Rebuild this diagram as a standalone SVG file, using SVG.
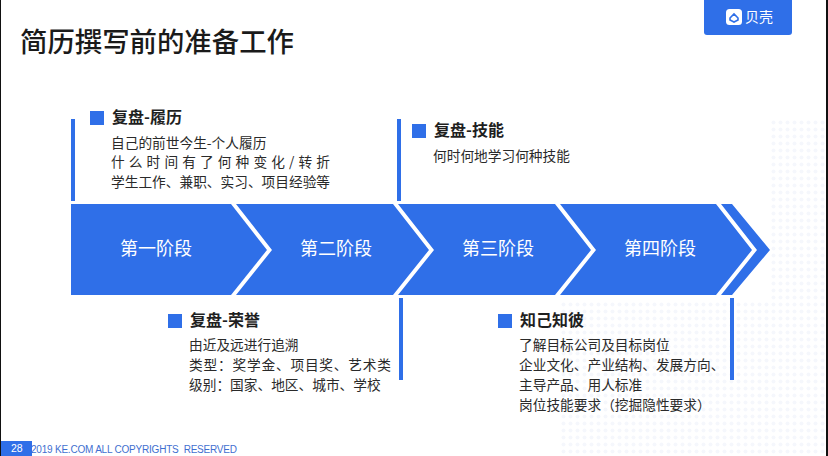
<svg xmlns="http://www.w3.org/2000/svg" width="828" height="456" viewBox="0 0 828 456">
<defs>
<style>
text{font-family:"Noto Sans CJK SC","Liberation Sans",sans-serif}
.h{font-size:16px;font-weight:700;fill:#1f1f1f}
.b{font-size:13.700px;fill:#2a2a2a}
.s{font-size:18px;fill:#fff;text-anchor:middle}
.c{fill:#2f6fe8}
</style>
<pattern id="dots" width="7" height="7" patternUnits="userSpaceOnUse"><circle cx="3.500" cy="3.500" r="2" fill="#f5f7fc"/></pattern>
</defs>
<rect width="828" height="456" fill="#fff"/>
<rect x="560" y="300" width="266" height="156" fill="url(#dots)"/>
<rect x="770" y="120" width="56" height="180" fill="url(#dots)"/>
<rect x="0" y="0" width="1" height="456" fill="#111"/>
<rect x="826" y="0" width="2" height="456" fill="#111"/>
<text x="20" y="52" font-size="27.400" font-weight="500" fill="#1a1a1a">简历撰写前的准备工作</text>
<g id="logo">
<path class="c" d="M704 0H792V32a3 3 0 0 1-3 3H707a3 3 0 0 1-3-3Z"/>
<rect x="726" y="9" width="16" height="16" rx="3.500" fill="#fff"/>
<path d="M730 18L734 14L738 18V20L734 22L730 20Z" fill="none" stroke="#2f6fe8" stroke-width="1.600"/>
<text x="745" y="22" font-size="14" fill="#fff">贝壳</text>
</g>
<g id="connectors">
<rect class="c" x="71" y="119" width="4" height="82"/>
<rect class="c" x="397" y="119" width="4" height="82"/>
<rect class="c" x="399" y="298" width="4" height="82"/>
<rect class="c" x="730" y="298" width="4" height="82"/>
</g>
<g id="stage1"><polygon class="c" points="71,204 231,204 267,250 231,295 71,295"/><text class="s" x="156" y="255">第一阶段</text></g>
<g id="stage2"><polygon class="c" points="236,204 393,204 429,250 393,295 236,295 272,250"/><text class="s" x="336" y="255">第二阶段</text></g>
<g id="stage3"><polygon class="c" points="398,204 555,204 591,250 555,295 398,295 434,250"/><text class="s" x="498" y="255">第三阶段</text></g>
<g id="stage4"><polygon class="c" points="560,204 716,204 752,250 716,295 560,295 596,250"/><text class="s" x="660" y="255">第四阶段</text></g>
<g id="stage5"><polygon class="c" points="721,204 732,204 770,250 732,295 721,295 757,250"/></g>
<g id="note1">
<rect class="c" x="90" y="111" width="14" height="14"/>
<text class="h" x="112" y="123">复盘-履历</text>
<text class="b" x="111" y="148">自己的前世今生-个人履历</text>
<text class="b" x="111" y="167" textLength="219">什 么 时 间 有 了 何 种 变 化 / 转 折</text>
<text class="b" x="111" y="187">学生工作、兼职、实习、项目经验等</text>
</g>
<g id="note2">
<rect class="c" x="412" y="124" width="14" height="14"/>
<text class="h" x="434" y="136">复盘-技能</text>
<text class="b" x="433" y="161">何时何地学习何种技能</text>
</g>
<g id="note3">
<rect class="c" x="168" y="314" width="14" height="14"/>
<text class="h" x="190" y="326">复盘-荣誉</text>
<text class="b" x="189" y="350">由近及远进行追溯</text>
<text class="b" x="189" y="370" textLength="202">类型：奖学金、项目奖、艺术类</text>
<text class="b" x="189" y="390">级别：国家、地区、城市、学校</text>
</g>
<g id="note4">
<rect class="c" x="498" y="314" width="14" height="14"/>
<text class="h" x="520" y="326">知己知彼</text>
<text class="b" x="519" y="350">了解目标公司及目标岗位</text>
<text class="b" x="519" y="370">企业文化、产业结构、发展方向、</text>
<text class="b" x="519" y="390">主导产品、用人标准</text>
<text class="b" x="519" y="410">岗位技能要求（挖掘隐性要求）</text>
</g>
<g id="footer">
<text x="31" y="453" font-size="10" fill="#3f6fd0" textLength="206" xml:space="preserve" style="font-family:'Liberation Sans',sans-serif">2019 KE.COM ALL COPYRIGHTS  RESERVED</text>
<rect class="c" x="1" y="441" width="31" height="15"/>
<text x="11" y="452" font-size="10.500" fill="#fff" style="font-family:'Liberation Sans',sans-serif">28</text>
</g>
</svg>
